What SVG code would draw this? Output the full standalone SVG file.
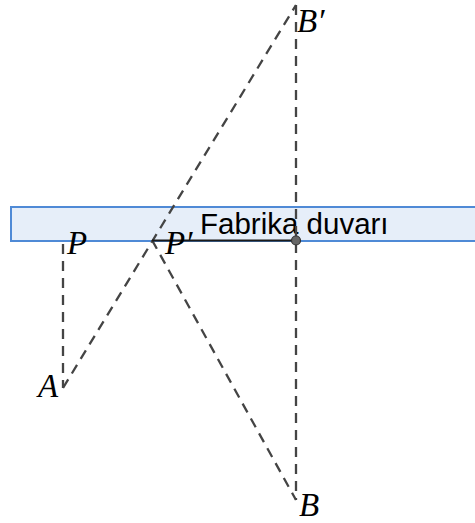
<svg xmlns="http://www.w3.org/2000/svg" width="475" height="523" viewBox="0 0 475 523">
<style>
.dash{stroke:#444;stroke-width:2.3;stroke-dasharray:10,7;fill:none}
.lbl{font-family:"Liberation Serif",serif;font-style:italic;font-size:33px;fill:#000}
.wall{font-family:"Liberation Sans",Arial,sans-serif;font-size:29.5px;fill:#000}
</style>
<rect width="475" height="523" fill="#fff"/>
<g id="wall">
<rect x="11" y="207" width="470" height="34" fill="#e6eef9" stroke="#4f8ad6" stroke-width="2"/>
<text class="wall" x="200" y="234">Fabrika duvarı</text>
</g>
<g id="connectors">
<line class="dash" x1="63" y1="388" x2="296" y2="5"/>
<line class="dash" x1="63" y1="244" x2="63" y2="388"/>
<line class="dash" x1="152" y1="240" x2="296" y2="500"/>
<line class="dash" x1="296" y1="5" x2="296" y2="500"/>
<line x1="152" y1="240.5" x2="296" y2="240.5" stroke="#1a1a1a" stroke-width="2"/>
</g>
<g id="node-C"><circle cx="296" cy="240.5" r="4.5" fill="#666" stroke="#333" stroke-width="1.2"/></g>
<g id="node-P"><text class="lbl" x="67" y="254">P</text></g>
<g id="node-P1"><text class="lbl" x="165" y="254">P′</text></g>
<g id="node-A"><text class="lbl" x="38" y="397">A</text></g>
<g id="node-B"><text class="lbl" x="299" y="516">B</text></g>
<g id="node-B1"><text class="lbl" x="297" y="32">B′</text></g>
</svg>
